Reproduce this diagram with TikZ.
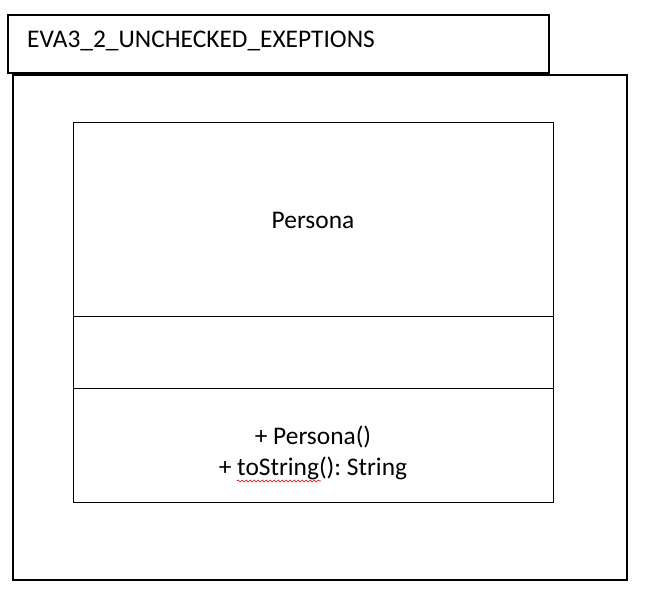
\documentclass[tikz,border=0pt]{standalone}
\usepackage{fontspec}
\setmainfont{Carlito}
\usetikzlibrary{decorations.pathmorphing}
\frenchspacing
\begin{document}
\begin{tikzpicture}[x=1pt,y=-1pt,
  thickbox/.style={draw=black,line width=2pt},
  thinbox/.style={draw=black,line width=0.9pt},
  txt/.style={inner sep=0pt,font=\fontsize{25.4}{31}\selectfont}]
\useasboundingbox (0,0) rectangle (653,612);
% title box
\draw[thickbox] (8,15) rectangle (549,73);
\node[txt,anchor=west] (title) at (27,41) {EVA3\_2\_UNCHECKED\_EXEPTIONS};
% outer frame
\draw[thickbox] (13,75) rectangle (627,580);
% class box
\draw[thinbox] (73,122) rectangle (553,502);
\coordinate (d1l) at (73,316); \coordinate (d1r) at (553,316);
\coordinate (d2l) at (73,388); \coordinate (d2r) at (553,388);
\draw[thinbox] (d1l) -- (d1r);
\draw[thinbox] (d2l) -- (d2r);
\node[txt] (name) at (313,220) {Persona};
\node[txt,align=center] (ops) at (313,453) {+ Persona()\\+ toString(): String};
\draw[red!85!black,line width=0.6pt,decorate,decoration={snake,amplitude=1pt,segment length=4pt}] (237,481) -- (321,481);
\end{tikzpicture}
\end{document}
